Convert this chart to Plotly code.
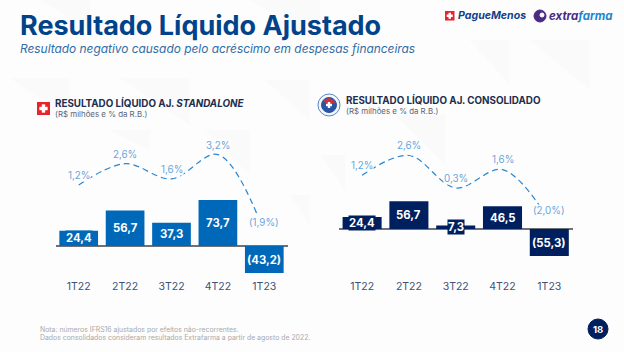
import plotly.graph_objects as go

W, H = 624, 352
FONT = "Inter"

categories = ["1T22", "2T22", "3T22", "4T22", "1T23"]
standalone_values = [24.4, 56.7, 37.3, 73.7, -43.2]
standalone_labels = ["24,4", "56,7", "37,3", "73,7", "(43,2)"]
standalone_margin = [1.2, 2.6, 1.6, 3.2, -1.9]
standalone_margin_labels = ["1,2%", "2,6%", "1,6%", "3,2%", "(1,9%)"]
consolidated_values = [24.4, 56.7, 7.3, 46.5, -55.3]
consolidated_labels = ["24,4", "56,7", "7,3", "46,5", "(55,3)"]
consolidated_margin = [1.2, 2.6, 0.3, 1.6, -2.0]
consolidated_margin_labels = ["1,2%", "2,6%", "0,3%", "1,6%", "(2,0%)"]

BLUE, NAVY, LINE, PCT, BG = "#0068b9", "#001f5f", "#2a86d2", "#6aa5dc", "#fdfdfd"


def px(x):
    return x / W


def py(y):
    return 1 - y / H


fig = go.Figure()


def panel(n, values, labels, margin, margin_labels, color):
    xa = f"x{n}"
    bar_y = f"y{3 * n - 2}"
    line_y = f"y{3 * n - 1}"
    label_y = f"y{3 * n}"
    fig.add_trace(go.Bar(x=categories, y=values, marker=dict(color=color, line_width=0), width=0.834,
                         xaxis=xa, yaxis=bar_y, showlegend=False))
    fig.add_trace(go.Scatter(x=categories, y=margin, mode="lines", xaxis=xa, yaxis=line_y, showlegend=False,
                             line=dict(color=LINE, width=1.2, dash="6px,4px", shape="spline", smoothing=1)))
    # invisible twin of the line on the taller label axis, so the axis has data
    fig.add_trace(go.Scatter(x=categories, y=margin, mode="markers", marker=dict(opacity=0, size=1), xaxis=xa,
                             yaxis=label_y, showlegend=False))
    for c, v, t in zip(categories, values, labels):
        fig.add_annotation(x=c, y=v / 2, xref=xa, yref=bar_y, text=f"<b>{t}</b>", showarrow=False,
                           font=dict(family=FONT, size=11.3, color="white"), bgcolor=color, borderpad=0)
    for c, v, t in zip(categories, margin, margin_labels):
        fig.add_annotation(x=c, y=v, xref=xa, yref=label_y, text=t, showarrow=False, yshift=9.5,
                           font=dict(family=FONT, size=9.8, color=PCT), bgcolor=BG, borderpad=0)


panel(1, standalone_values, standalone_labels, standalone_margin, standalone_margin_labels, BLUE)
panel(2, consolidated_values, consolidated_labels, consolidated_margin, consolidated_margin_labels, NAVY)


def xaxis(l, r, anchor):
    return dict(domain=[px(l), px(r)], anchor=anchor, type="category", range=[-0.5, 4.5], showgrid=False,
                showline=False, ticks="", ticklabelstandoff=2,
                tickfont=dict(family=FONT, size=10.5, color="#414f75"))


def yaxis(top, bottom, lo, hi, anchor, zero=False):
    return dict(domain=[py(bottom), py(top)], range=[lo, hi], anchor=anchor, visible=True, showgrid=False,
                showticklabels=False, ticks="", showline=False, zeroline=zero, zerolinecolor="#6f7178",
                zerolinewidth=1.5)


fig.update_layout(
    width=W, height=H, autosize=False, margin=dict(l=0, r=0, t=0, b=0),
    paper_bgcolor=BG, plot_bgcolor="rgba(0,0,0,0)", barmode="overlay", showlegend=False,
    xaxis=xaxis(55.5, 287.5, "y"), xaxis2=xaxis(338.7, 572.7, "y4"),
    yaxis=yaxis(190, 276, -48, 89.6, "x", True),
    yaxis2=yaxis(140, 214, -0.708, 4.16, "x"),
    yaxis3=yaxis(140, 245, -2.75, 4.16, "x"),
    yaxis4=yaxis(190, 276, -95.9, 79.6, "x2", True),
    yaxis5=yaxis(140, 205, -0.911, 3.70, "x2"),
    yaxis6=yaxis(140, 245, -3.80, 3.70, "x2"),
)


def text(x, y, s, size, color, anchor="left", **kw):
    fig.add_annotation(xref="paper", yref="paper", x=px(x), y=py(y), text=s, showarrow=False, xanchor=anchor,
                       yanchor="middle", font=dict(family=FONT, size=size, color=color), **kw)


text(18, 25, "<b>Resultado Líquido Ajustado</b>", 27, "#00438a")
text(18, 48, "<i>Resultado negativo causado pelo acréscimo em despesas financeiras</i>", 11.9, "#2f6ca8")
text(53, 103, "<b>RESULTADO LÍQUIDO AJ. <i>STANDALONE</i></b>", 9.8, "#222d4d")
text(53, 114, "(R$ milhões e % da R.B.)", 7.9, "#5c6478")
text(344, 100, "<b>RESULTADO LÍQUIDO AJ. CONSOLIDADO</b>", 9.8, "#222d4d")
text(344, 111, "(R$ milhões e % da R.B.)", 7.9, "#5c6478")
text(38, 329, "Nota: números IFRS16 ajustados por efeitos não-recorrentes.", 6.9, "#a9a9ab")
text(38, 337, "Dados consolidados consideram resultados Extrafarma a partir de agosto de 2022.", 6.9, "#a9a9ab")
text(598, 329, "<b>18</b>", 9.5, "white", "center")
text(456, 16, "<b><i>PagueMenos</i></b>", 10.6, "#123f8c")
text(547, 16, '<b><i>extra<span style="color:#1987cf">farma</span></i></b>', 11.5, "#4b2a83")


def rect(x0, y0, x1, y1, color):
    fig.add_shape(type="rect", xref="paper", yref="paper", x0=px(x0), x1=px(x1), y0=py(y0), y1=py(y1),
                  fillcolor=color, line_width=0, layer="above")


def circle(cx, cy, r, color, line=None):
    fig.add_shape(type="circle", xref="paper", yref="paper", x0=px(cx - r), x1=px(cx + r), y0=py(cy - r),
                  y1=py(cy + r), fillcolor=color, line=dict(color=line or color, width=1), layer="below")


def tri(points, color="#fafafb"):
    path = "M " + " L ".join(f"{px(x)} {py(y)}" for x, y in points) + " Z"
    fig.add_shape(type="path", xref="paper", yref="paper", path=path, fillcolor=color, line_width=0, layer="below")


# faint background facets
for pts in [[(40, 0), (90, 0), (90, 30)], [(250, 0), (320, 0), (320, 45)], [(470, 40), (510, 40), (510, 85)],
            [(530, 40), (590, 40), (590, 90)], [(10, 78), (70, 78), (70, 120)], [(120, 78), (190, 78), (190, 125)],
            [(265, 80), (310, 80), (310, 120)], [(395, 115), (445, 115), (445, 165)],
            [(320, 155), (345, 155), (345, 190)], [(290, 195), (310, 195), (310, 225)],
            [(110, 130), (150, 130), (150, 150)], [(205, 130), (250, 130), (250, 175)]]:
    tri(pts)

# red square logos
for x0, y0, s in [(37, 102, 13), (445, 11, 9.5)]:
    rect(x0, y0, x0 + s, y0 + s, "#e8232a")
    c, a, b = s / 2, s * 0.32, s * 0.13
    rect(x0 + c - a, y0 + c - b, x0 + c + a, y0 + c + b, "white")
    rect(x0 + c - b, y0 + c - a, x0 + c + b, y0 + c + a, "white")

# extrafarma mark
circle(540, 16, 6, "#4b2a83")
circle(542, 15, 2, "#ffffff")

# consolidated mark
circle(329, 105, 11, "#f2f5fa", "#5f86c0")
circle(329, 105, 7.5, "#2a55a5")
fig.add_shape(type="path", xref="paper", yref="paper", layer="below", fillcolor="#c8323c", line_width=0,
              path=f"M {px(323)} {py(101)} L {px(329)} {py(97.5)} L {px(336)} {py(102)} L {px(329)} {py(105)} Z")
rect(326, 103.8, 332, 106.2, "white")
rect(327.8, 102, 330.2, 108, "white")

# page number badge
circle(598, 329, 10, "#001f5f")

fig.write_html("out.html", config={"displayModeBar": False}, post_script="document.body.style.margin='0';")
